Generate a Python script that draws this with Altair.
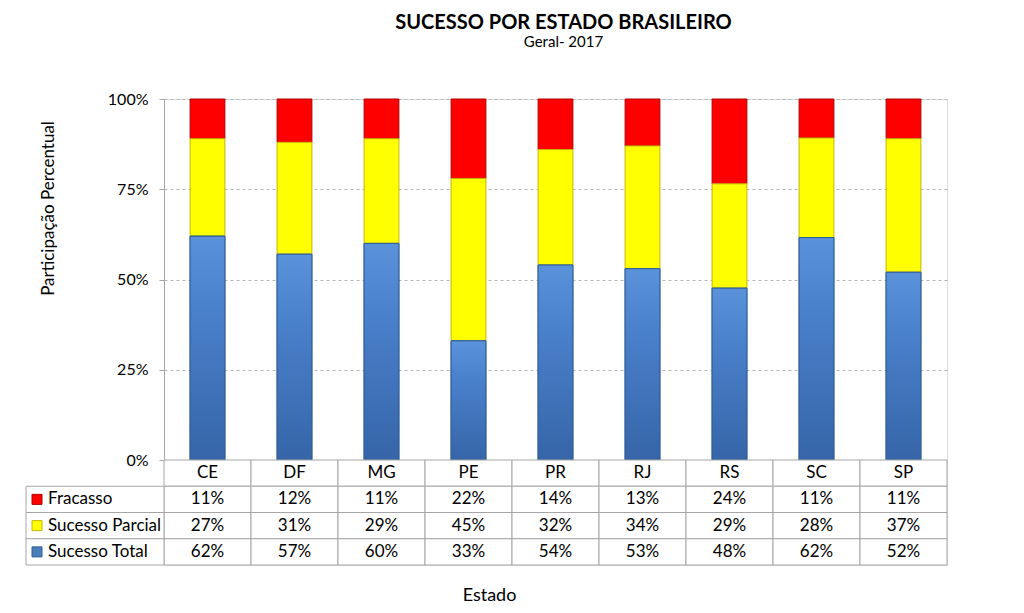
import altair as alt
import pandas as pd

FONT = "Lato"
GRID = "#a6a6a6"

# ---- data ----
states = ["CE", "DF", "MG", "PE", "PR", "RJ", "RS", "SC", "SP"]
fracasso = [11, 12, 11, 22, 14, 13, 23.5, 10.8, 11]
sucesso_parcial = [27, 31, 29, 45, 32, 34, 28.9, 27.6, 37]
sucesso_total = [62, 57, 60, 33, 54, 53, 47.6, 61.6, 52]

series_names = ["Fracasso", "Sucesso Parcial", "Sucesso Total"]
stack_order = [3, 2, 1]
fill_colors = ["#ff0000", "#ffff00", "#4a7ebb"]
stroke_colors = ["#b00000", "#c8b400", "#2f5d99"]
row_domain = ["hdr"] + series_names
y_ticks = [0, 25, 50, 75, 100]

rows = []
for i, s in enumerate(states):
    for name, vals, o in zip(series_names, [fracasso, sucesso_parcial, sucesso_total], stack_order):
        rows.append({"state": s, "series": name, "value": vals[i], "ord": o})
df = pd.DataFrame(rows)
cells_df = pd.DataFrame([{"state": s, "row": r} for s in states for r in row_domain])
hdr_df = pd.DataFrame({"state": states, "row": ["hdr"] * len(states)})
left_df = pd.DataFrame({"col": ["lab"] * len(series_names), "series": series_names})

W, H_BARS, H_TAB = 783, 361, 105
H = H_BARS + H_TAB
TXT = 17

fill_scale = alt.Scale(domain=series_names, range=fill_colors)
stroke_scale = alt.Scale(domain=series_names, range=stroke_colors)
val_scale = alt.Scale(domain=[0, 100], range=[H_BARS, 0], nice=False)
row_scale = alt.Scale(domain=row_domain, range=[H_BARS, H], paddingInner=0, paddingOuter=0)
left_scale = alt.Scale(range=[-138, 0], paddingInner=0, paddingOuter=0)

x_axis = alt.Axis(title="Estado", labels=False, ticks=False, domain=False, grid=False,
                  titleFont=FONT, titleFontSize=18, titleFontWeight="normal", titleColor="black",
                  titleX=325, titleY=35, titleBaseline="alphabetic", titleAlign="center")
x_enc = alt.X("state:N", sort=states, scale=alt.Scale(paddingInner=0, paddingOuter=0), axis=x_axis)

y_axis = alt.Axis(values=y_ticks, labelExpr="datum.value + '%'", title="Participação Percentual",
                  titleFont=FONT, titleFontSize=17, titleFontWeight="normal", titleColor="black",
                  titleX=-110.5, titleY=109, titleAlign="center", titleBaseline="alphabetic",
                  labelFont=FONT, labelFontSize=16, labelColor="black", labelPadding=11,
                  tickSize=5, tickColor=GRID, domainColor=GRID,
                  grid=True, gridDash=[3, 3], gridColor="#b5b5b5")

bars = alt.Chart(df).mark_bar(width=alt.RelativeBandSize(0.4), strokeWidth=1).encode(
    x=x_enc,
    y=alt.Y("value:Q", stack="zero", scale=val_scale, axis=y_axis),
    fill=alt.Fill("series:N", scale=fill_scale, legend=None),
    stroke=alt.Stroke("series:N", scale=stroke_scale, legend=None),
    order=alt.Order("ord:Q"),
)

blue_grad = alt.LinearGradient(
    gradient="linear", x1=0, x2=0, y1=0, y2=1,
    stops=[alt.GradientStop(color="#5a93da", offset=0),
           alt.GradientStop(color="#4a82cc", offset=0.3),
           alt.GradientStop(color="#3665a8", offset=1)])

overlay = alt.Chart(df).transform_filter(alt.datum.series == "Sucesso Total").mark_bar(
    width=alt.RelativeBandSize(0.4), fill=blue_grad, stroke="#2f5d99", strokeWidth=1
).encode(
    x=x_enc,
    y=alt.Y("value:Q", stack=None, scale=val_scale, axis=None),
)

cells = alt.Chart(cells_df).mark_rect(fill="white", stroke=GRID, strokeWidth=1).encode(
    x=x_enc,
    y=alt.Y("row:N", scale=row_scale, axis=None),
)

hdr_text = alt.Chart(hdr_df).mark_text(font=FONT, fontSize=TXT, color="black").encode(
    x=x_enc,
    y=alt.Y("row:N", scale=row_scale, axis=None),
    text="state:N",
)

val_text = alt.Chart(df).transform_calculate(
    label="format(datum.value, '.0f') + '%'"
).mark_text(font=FONT, fontSize=TXT, color="black").encode(
    x=x_enc,
    y=alt.Y("series:N", scale=row_scale, axis=None),
    text="label:N",
)

inner = alt.layer(bars, overlay, cells, hdr_text, val_text).resolve_scale(y="independent")

left_x = alt.X("col:N", scale=left_scale, axis=None)
left_x0 = alt.X("col:N", scale=left_scale, axis=None, bandPosition=0)
left_y = alt.Y("series:N", scale=row_scale, axis=None)

left_cells = alt.Chart(left_df).mark_rect(fill="white", stroke=GRID, strokeWidth=1).encode(
    x=left_x, y=left_y)
left_sq = alt.Chart(left_df).mark_square(size=100, filled=True, opacity=1, xOffset=11, strokeWidth=1).encode(
    x=left_x0, y=left_y,
    fill=alt.Fill("series:N", scale=fill_scale, legend=None),
    stroke=alt.Stroke("series:N", scale=stroke_scale, legend=None),
)
left_txt = alt.Chart(left_df).mark_text(font=FONT, fontSize=TXT, color="black", align="left", xOffset=22).encode(
    x=left_x0, y=left_y, text="series:N")

left = alt.layer(left_cells, left_sq, left_txt)

chart = alt.layer(inner, left).resolve_scale(x="independent", y="independent").properties(
    width=W, height=H,
    title=alt.TitleParams(
        text="SUCESSO POR ESTADO BRASILEIRO", subtitle="Geral- 2017",
        font=FONT, fontSize=20, fontWeight="bold", color="black",
        subtitleFont=FONT, subtitleFontSize=15, subtitleColor="black",
        anchor="middle", dx=8, offset=41, subtitlePadding=2),
    padding={"left": 156, "top": 91, "right": 60, "bottom": 40},
    autosize=alt.AutoSizeParams(type="none"),
).configure_view(strokeWidth=0).configure(font=FONT, background="white")

chart.save("out.html", embed_options={"renderer": "svg", "actions": False})
